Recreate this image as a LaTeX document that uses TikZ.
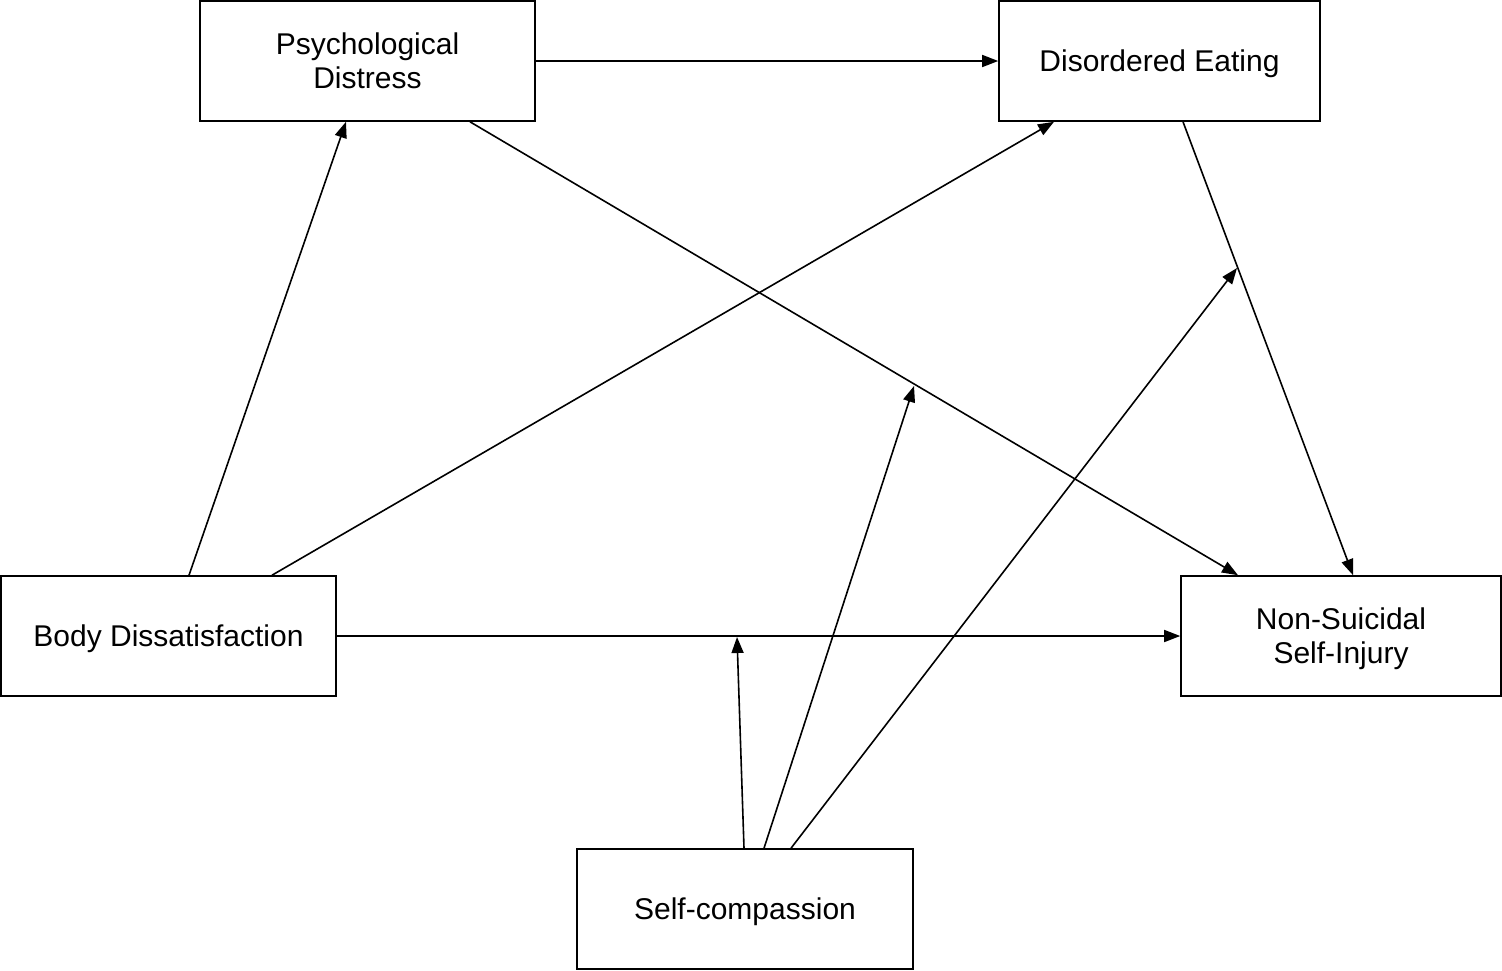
\documentclass[tikz,border=0pt]{standalone}
\usepackage{fontspec}
\setmainfont{Liberation Sans}
\usetikzlibrary{arrows.meta}
\begin{document}
\begin{tikzpicture}[x=0.5pt,y=-0.5pt]
\tikzset{var/.style={draw,line width=0.8pt,minimum height=60pt,align=center,font=\fontsize{15}{17}\selectfont,inner sep=0pt,text depth=0pt},
path/.style={line width=0.8pt,-{Triangle[length=8pt,width=6pt]}}}
\useasboundingbox (0,0) rectangle (1502,970);
\node [var,minimum width=167.5pt] (pd) at (367.5,61) {Psychological\\Distress};
\node [var,minimum width=160.5pt] (de) at (1159.5,61) {Disordered Eating};
\node [var,minimum width=167.5pt] (bd) at (168.5,636) {Body Dissatisfaction};
\node [var,minimum width=160pt] (ns) at (1341,636) {Non-Suicidal\\Self-Injury};
\node [var,minimum width=168pt] (sc) at (745,909) {Self-compassion};
% points where the moderation arrows meet the paths
\coordinate (m1) at (737,637);
\coordinate (m2) at (914,386);
\coordinate (m3) at (1237,268);
\draw [path] (pd.east) -- (de.west);
\draw [path] ([xshift=10.25pt]bd.north) -- ([xshift=-10.75pt]pd.south);
\draw [path] ([xshift=51.75pt]bd.north) -- ([xshift=-52.75pt]de.south);
\draw [path] ([xshift=51.25pt]pd.south) -- ([xshift=-51.5pt]ns.north);
\draw [path] ([xshift=11.75pt]de.south) -- ([xshift=6pt]ns.north);
\draw [path] (bd.east) -- (ns.west);
\draw [path] ([xshift=-0.5pt]sc.north) -- (m1);
\draw [path] ([xshift=9.5pt]sc.north) -- (m2);
\draw [path] ([xshift=23pt]sc.north) -- (m3);
\end{tikzpicture}
\end{document}
